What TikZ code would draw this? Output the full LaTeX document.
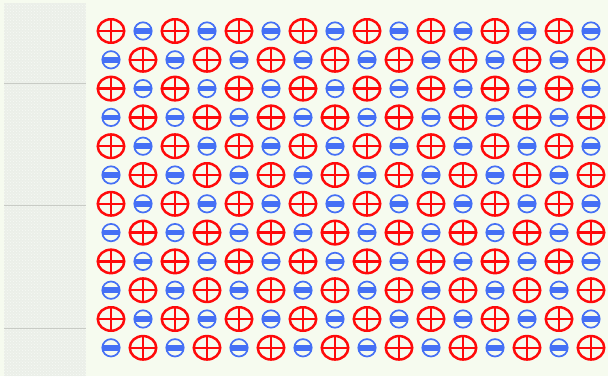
\documentclass[tikz,border=0pt]{standalone}
\usepackage{tikz}
\usetikzlibrary{shapes.geometric,patterns}
\definecolor{bg}{HTML}{F6FBEF}
\definecolor{panel}{HTML}{EBEFE8}
\definecolor{seam}{HTML}{C8CBC5}
\definecolor{posred}{HTML}{FF0A0A}
\definecolor{negblue}{HTML}{4570F5}

\begin{document}
\begin{tikzpicture}[x=1pt,y=-1pt,
          every node/.style={inner sep=0pt,outer sep=0pt},
          poscharge/.style={draw=posred,line width=2.5pt,ellipse,
                      minimum width=26.5pt,minimum height=23.5pt,
                      path picture={\draw[posred,line width=2.4pt]
                        (path picture bounding box.north) -- (path picture bounding box.south)
                        (path picture bounding box.west) -- (path picture bounding box.east);}},
          negcharge/.style={draw=negblue,line width=1.7pt,circle,minimum size=17.4pt,
                      path picture={\fill[negblue]
                        ([yshift=-2.8pt]path picture bounding box.west) rectangle
                        ([yshift=2.8pt]path picture bounding box.east);}},
      ]
        \fill[bg] (0,0) rectangle (608,376);
        \useasboundingbox (0,0) rectangle (608,376);

        % side panel
        \fill[panel] (4,3) rectangle (86,376);
        \fill[pattern=crosshatch dots,pattern color=white!60!panel] (4,3) rectangle (86,376);
        \foreach \y in {83,205,328}
          \draw[seam,line width=0.8pt] (4,\y) -- (86,\y);

        % charges
        \foreach \r in {0,...,11}
          \foreach \c in {0,...,15}{
            \pgfmathtruncatemacro{\odd}{mod(\r+\c,2)}
            \ifnum\odd=0
              \node[poscharge] (q-\r-\c) at (111+32*\c,31+28.8*\r) {};
            \else
              \node[negcharge] (q-\r-\c) at (111+32*\c,31+28.8*\r) {};
            \fi
          }
      \end{tikzpicture}
\end{document}
